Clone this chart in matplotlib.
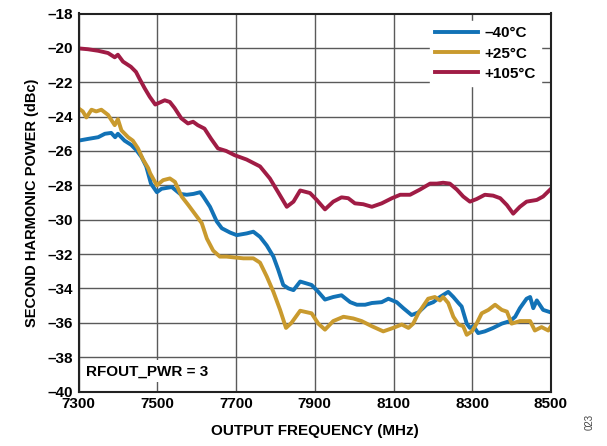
import matplotlib
matplotlib.use("Agg")
import matplotlib.pyplot as plt

plt.rcParams['font.family'] = ['Liberation Sans', 'DejaVu Sans']
plt.rcParams['font.weight'] = 'bold'

# Second harmonic power vs output frequency, three temperatures
freq_m40 = [7300, 7324, 7350, 7367, 7383, 7393, 7400, 7417, 7434, 7447, 7460, 7472,
            7484, 7499, 7511, 7537, 7558, 7575, 7592, 7609, 7617, 7634, 7651, 7664,
            7685, 7702, 7727, 7744, 7761, 7778, 7795, 7807, 7820, 7833, 7846, 7863,
            7892, 7909, 7926, 7947, 7968, 7990, 8007, 8028, 8045, 8070, 8087, 8108,
            8125, 8146, 8163, 8184, 8201, 8218, 8239, 8252, 8265, 8273, 8286, 8294,
            8303, 8315, 8332, 8353, 8375, 8396, 8409, 8421, 8438, 8447, 8455, 8464,
            8480, 8500]
pwr_m40 = [-25.4, -25.3, -25.2, -25.0, -24.95, -25.2, -25.0, -25.4, -25.65, -25.95, -26.35, -26.9,
           -27.9, -28.4, -28.2, -28.1, -28.5, -28.55, -28.5, -28.4, -28.65, -29.25, -30.1, -30.5,
           -30.75, -30.9, -30.8, -30.7, -31.0, -31.5, -32.15, -32.9, -33.8, -34.0, -34.1, -33.6,
           -33.8, -34.2, -34.65, -34.5, -34.4, -34.8, -34.95, -34.95, -34.85, -34.8, -34.6, -34.8,
           -35.15, -35.55, -35.4, -34.95, -34.8, -34.5, -34.2, -34.5, -34.85, -35.05, -36.05, -36.3,
           -36.2, -36.6, -36.5, -36.3, -36.05, -35.9, -35.65, -35.15, -34.6, -34.5, -35.15, -34.7,
           -35.25, -35.4]

freq_25 = [7300, 7311, 7320, 7333, 7345, 7358, 7375, 7392, 7400, 7409, 7426, 7438,
           7451, 7464, 7477, 7482, 7499, 7515, 7532, 7545, 7562, 7579, 7600, 7613,
           7626, 7642, 7659, 7676, 7697, 7719, 7744, 7761, 7778, 7795, 7812, 7827,
           7841, 7863, 7892, 7909, 7926, 7947, 7973, 7998, 8019, 8045, 8074, 8099,
           8121, 8138, 8150, 8163, 8188, 8205, 8218, 8226, 8239, 8252, 8265, 8277,
           8286, 8299, 8311, 8324, 8341, 8358, 8375, 8388, 8400, 8421, 8447, 8459,
           8476, 8493, 8500]
pwr_25 = [-23.52, -23.7, -24.05, -23.6, -23.7, -23.6, -23.9, -24.5, -24.15, -24.8, -25.2, -25.4,
          -25.85, -26.5, -27.0, -27.3, -28.0, -27.7, -27.6, -27.8, -28.65, -29.15, -29.8, -30.2,
          -31.1, -31.8, -32.15, -32.15, -32.2, -32.25, -32.25, -32.5, -33.3, -34.2, -35.25, -36.3,
          -36.0, -35.3, -35.45, -36.05, -36.4, -35.9, -35.65, -35.75, -35.9, -36.2, -36.5, -36.3,
          -36.1, -36.3, -36.05, -35.45, -34.6, -34.5, -34.7, -34.5, -34.85, -35.65, -36.1, -36.2,
          -36.7, -36.5, -36.05, -35.45, -35.25, -34.95, -35.25, -35.35, -36.05, -35.9, -35.9, -36.45,
          -36.25, -36.45, -36.2]

freq_105 = [7300, 7324, 7350, 7375, 7392, 7400, 7413, 7433, 7446, 7455, 7468, 7481,
            7495, 7519, 7532, 7544, 7561, 7578, 7591, 7603, 7620, 7637, 7654, 7675,
            7697, 7727, 7761, 7786, 7807, 7829, 7846, 7863, 7888, 7905, 7926, 7947,
            7968, 7985, 8002, 8023, 8045, 8070, 8096, 8117, 8142, 8167, 8193, 8210,
            8226, 8243, 8261, 8277, 8294, 8311, 8332, 8353, 8371, 8388, 8404, 8421,
            8438, 8464, 8480, 8500]
pwr_105 = [-20.03, -20.08, -20.17, -20.3, -20.55, -20.4, -20.8, -21.1, -21.4, -21.8, -22.35, -22.85,
           -23.3, -23.05, -23.15, -23.5, -24.1, -24.4, -24.3, -24.5, -24.7, -25.3, -25.85, -26.0,
           -26.25, -26.5, -26.9, -27.6, -28.4, -29.25, -28.95, -28.3, -28.45, -28.85, -29.4, -28.95,
           -28.7, -28.75, -29.05, -29.1, -29.25, -29.05, -28.75, -28.55, -28.55, -28.25, -27.9, -27.9,
           -27.85, -27.9, -28.25, -28.65, -28.95, -28.8, -28.55, -28.6, -28.75, -29.15, -29.65, -29.25,
           -28.95, -28.85, -28.65, -28.2]

series_labels = ['\u201340\u00b0C', '+25\u00b0C', '+105\u00b0C']
series_colors = ['#1272B6', '#C99A2E', '#A01C45']

x_ticks = [7300, 7500, 7700, 7900, 8100, 8300, 8500]
y_ticks = list(range(-40, -17, 2))

fig = plt.figure(figsize=(6.07, 4.46), dpi=100)
ax = fig.add_axes([78.5 / 607, 1 - 391.5 / 446, (551 - 78.5) / 607, (391.5 - 13.5) / 446])

for f, p, lab, c in zip([freq_m40, freq_25, freq_105], [pwr_m40, pwr_25, pwr_105],
                        series_labels, series_colors):
    ax.plot(f, p, color=c, lw=2.8, label=lab)

ax.set_xlim(7300, 8500)
ax.set_ylim(-40, -18)
ax.set_xticks(x_ticks)
ax.set_yticks(y_ticks)
ax.set_yticklabels([f'\u2013{abs(v)}' for v in y_ticks])
ax.tick_params(length=0, labelsize=11, pad=4)
for lbl in ax.get_xticklabels() + ax.get_yticklabels():
    lbl.set_fontweight('bold')
ax.grid(True, color='#5a5a5a', lw=1.0)
ax.set_axisbelow(True)
for s in ax.spines.values():
    s.set_linewidth(1.5)
    s.set_color('#222222')

ax.set_xlabel('OUTPUT FREQUENCY (MHz)', fontsize=11, fontweight='bold', labelpad=9)
ax.set_ylabel('SECOND HARMONIC POWER (dBc)', fontsize=10.5, fontweight='bold', labelpad=6)

leg = ax.legend(loc='upper right', bbox_to_anchor=(0.995, 1.0), frameon=True,
                fancybox=False, edgecolor='white', framealpha=1.0,
                prop={'weight': 'bold', 'size': 11}, handlelength=2.8,
                handletextpad=0.4, borderpad=0.35, labelspacing=0.4)
for line in leg.get_lines():
    line.set_linewidth(2.8)

ax.text(0.015, 0.035, 'RFOUT_PWR = 3', transform=ax.transAxes, fontsize=11,
        fontweight='bold', ha='left', va='bottom',
        bbox=dict(facecolor='white', edgecolor='none', pad=3))

fig.text(0.972, 0.035, '023', rotation=90, fontsize=7, fontweight='normal',
         color='#444444', ha='center', va='bottom')

fig.savefig('out.png', dpi=100)
